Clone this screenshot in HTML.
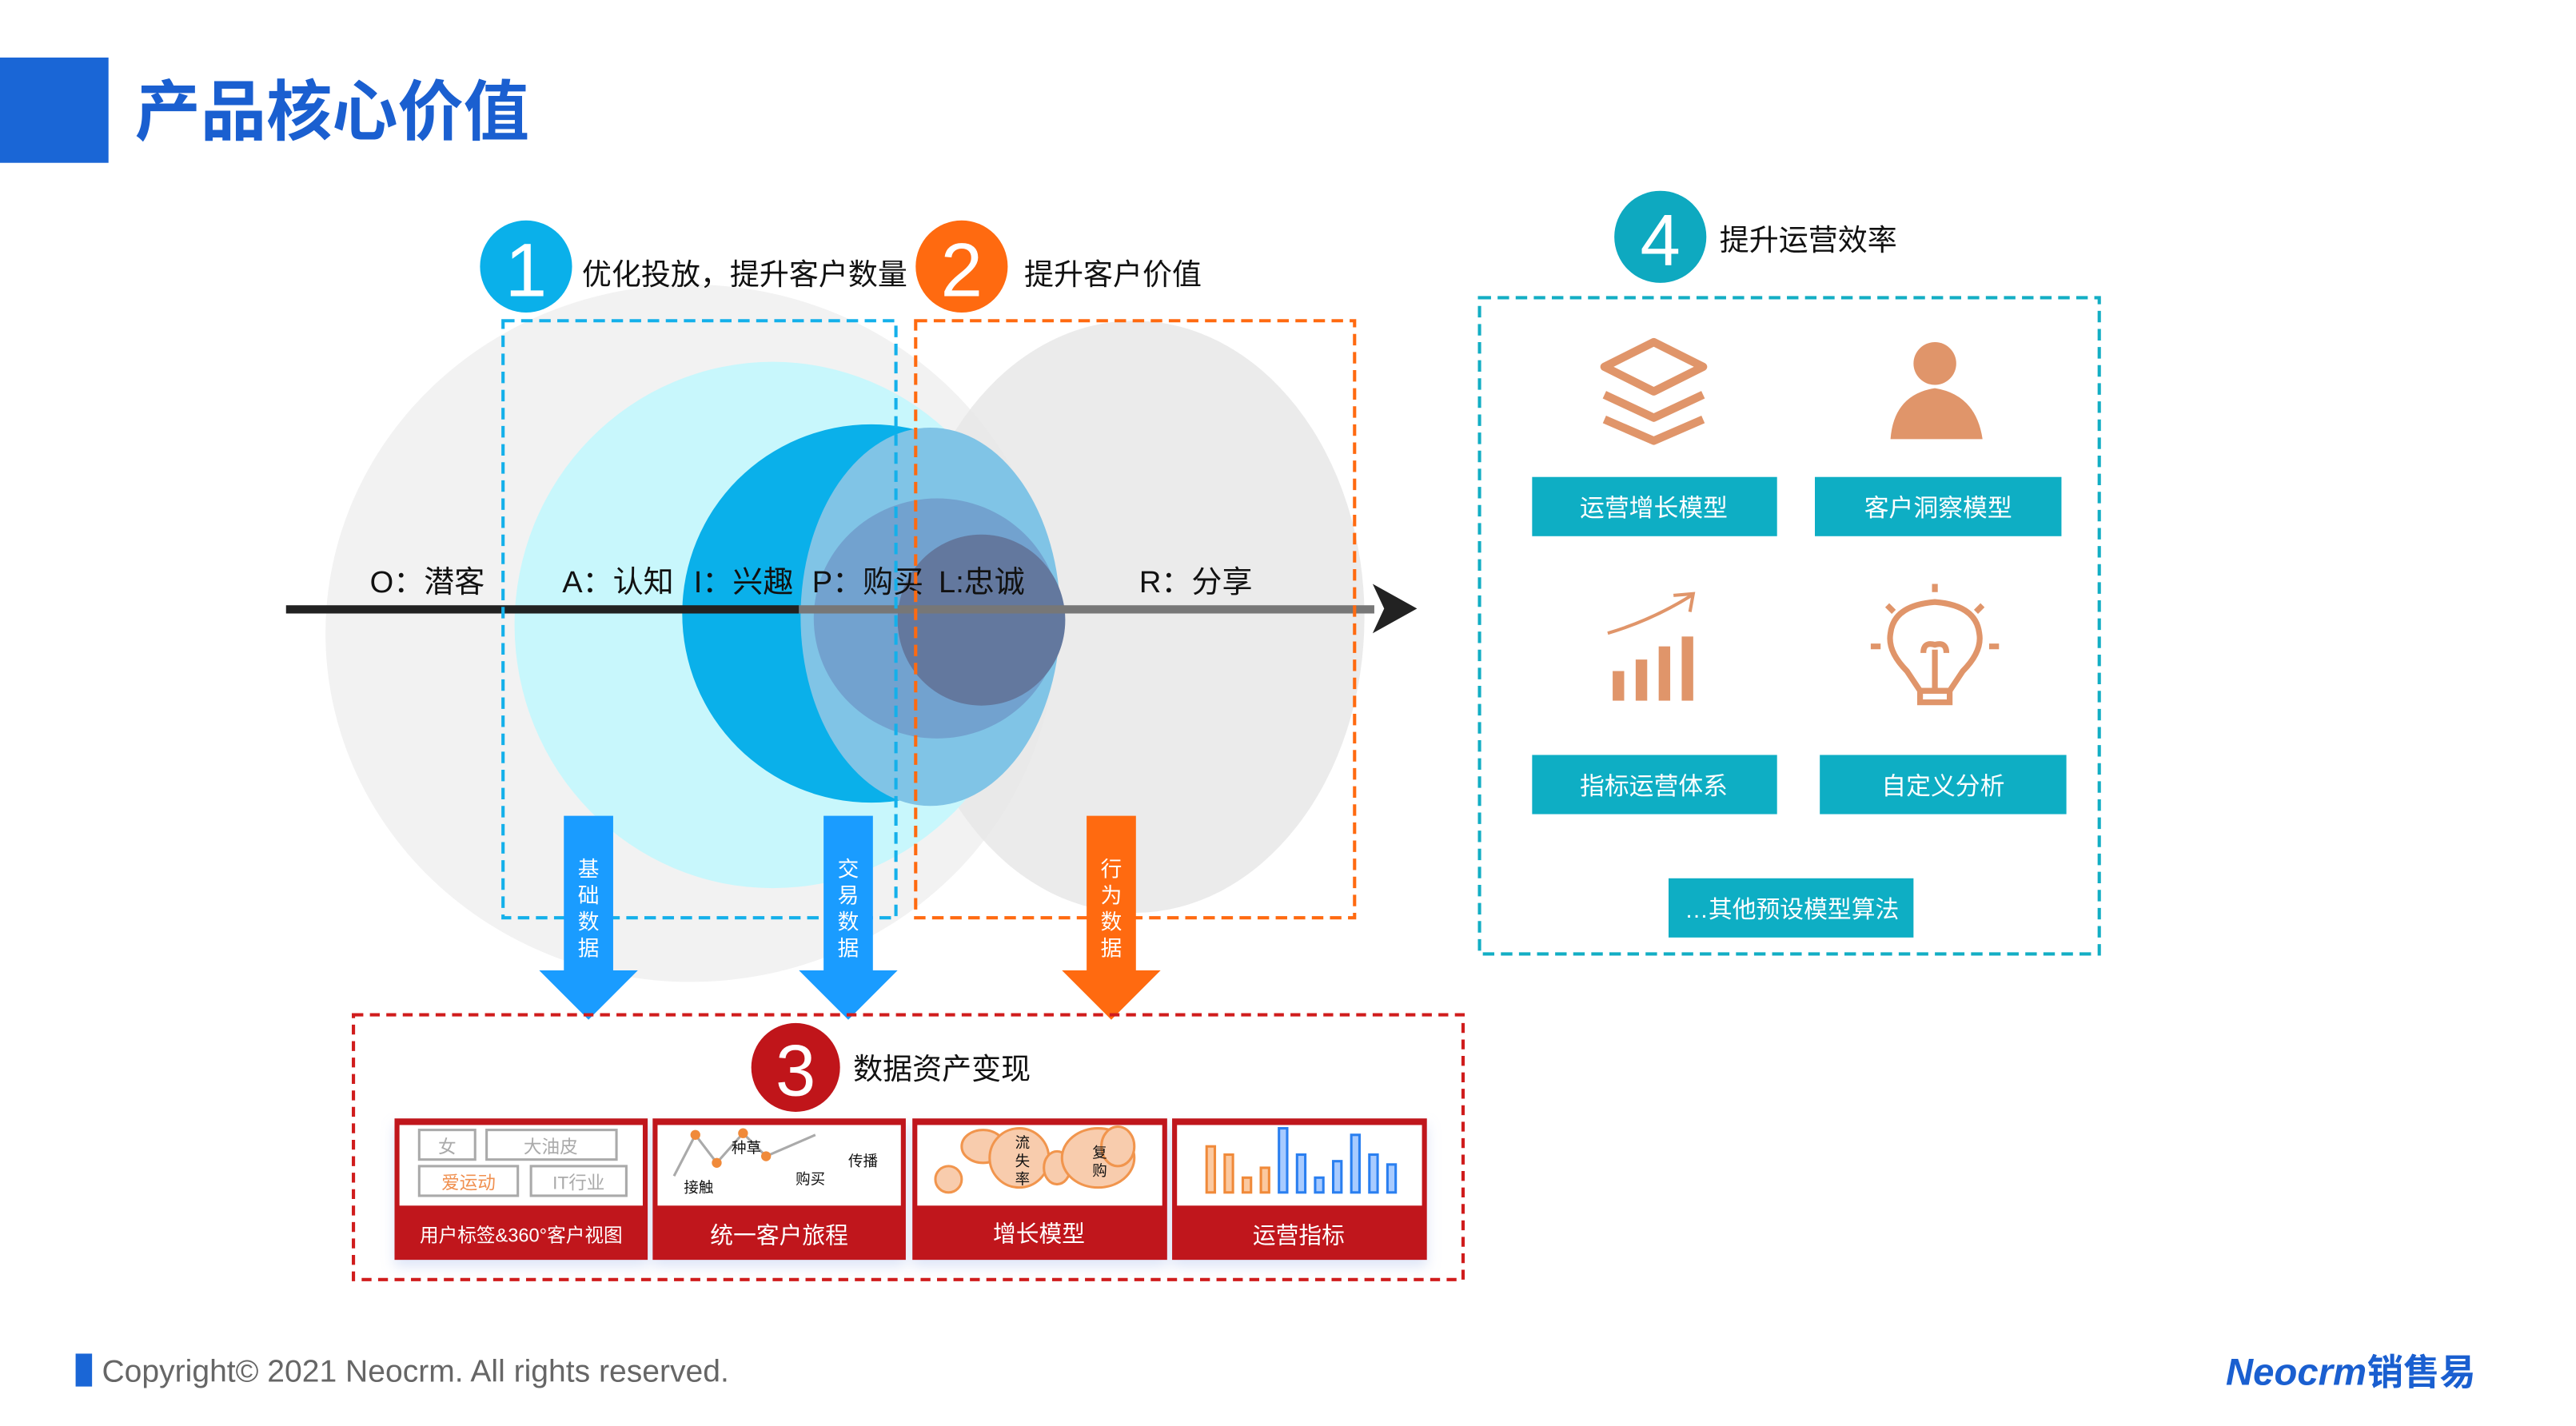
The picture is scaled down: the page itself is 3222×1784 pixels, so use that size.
<!DOCTYPE html>
<html><head><meta charset="utf-8"><style>
html,body{margin:0;padding:0;background:#fff;}
svg{display:block;}
text{font-family:"Liberation Sans","Noto Sans CJK SC",sans-serif;}
</style></head><body>
<svg width="3222" height="1784" viewBox="0 0 1567 867" preserveAspectRatio="none" xmlns="http://www.w3.org/2000/svg">
<defs>
<filter id="sh" x="-10%" y="-10%" width="120%" height="140%"><feDropShadow dx="0" dy="4" stdDeviation="4" flood-color="#9db3e8" flood-opacity="0.35"/></filter>
</defs>
<rect x="0" y="35" width="66" height="64" fill="#1a66d6"/>
<text x="82" y="82" font-size="40" font-weight="bold" fill="#1a5fd0">产品核心价值</text>

<ellipse cx="420" cy="385" rx="222" ry="212" fill="#f2f2f2"/>
<ellipse cx="690" cy="375" rx="140" ry="180" fill="#e6e6e6" opacity="0.8"/>
<ellipse cx="470" cy="380" rx="157" ry="160" fill="#c8f7fc"/>
<ellipse cx="530" cy="373" rx="115" ry="115" fill="#0ab0ea"/>
<ellipse cx="566" cy="375" rx="79" ry="115" fill="#80c4e6"/>
<ellipse cx="570" cy="376" rx="75" ry="73" fill="#72a2cf"/>
<ellipse cx="597" cy="377" rx="51" ry="52" fill="#63789e"/>

<rect x="174" y="368" width="312" height="5" fill="#222"/>
<rect x="486" y="368" width="350" height="5" fill="#777"/>
<polygon points="835,355 862,370 835,385 842,370" fill="#222"/>
<g font-size="18.5" fill="#111" style="font-family:'Liberation Serif','Noto Sans CJK SC',serif">
<text x="225" y="360">O：潜客</text>
<text x="342" y="360">A：认知</text>
<text x="422" y="360">I：兴趣</text>
<text x="494" y="360">P：购买</text>
<text x="571" y="360">L:忠诚</text>
<text x="693" y="360">R：分享</text>
</g>

<rect x="306" y="195" width="239" height="363" fill="none" stroke="#14b0ea" stroke-width="2" stroke-dasharray="7,4"/>
<rect x="557" y="195" width="267" height="363" fill="none" stroke="#ff6a10" stroke-width="2" stroke-dasharray="7,4"/>

<circle cx="320" cy="162" r="28" fill="#0ab0ea"/>
<text x="320" y="180" font-size="46" fill="#fff" text-anchor="middle" font-family="Liberation Serif,serif">1</text>
<text x="354" y="173" font-size="18" fill="#111">优化投放，提升客户数量</text>
<circle cx="585" cy="162" r="28" fill="#ff6a10"/>
<text x="585" y="180" font-size="46" fill="#fff" text-anchor="middle" font-family="Liberation Serif,serif">2</text>
<text x="623" y="173" font-size="18" fill="#111">提升客户价值</text>

<g>
<polygon points="343,496 373,496 373,590 388,590 358,620 328,590 343,590" fill="#1a9cff"/>
<polygon points="501,496 531,496 531,590 546,590 516,620 486,590 501,590" fill="#1a9cff"/>
<polygon points="661,496 691,496 691,590 706,590 676,620 646,590 661,590" fill="#ff6a10"/>
<g font-size="13" fill="#fff" text-anchor="middle">
<text x="358" y="533">基</text><text x="358" y="549">础</text><text x="358" y="565">数</text><text x="358" y="581">据</text>
<text x="516" y="533">交</text><text x="516" y="549">易</text><text x="516" y="565">数</text><text x="516" y="581">据</text>
<text x="676" y="533">行</text><text x="676" y="549">为</text><text x="676" y="565">数</text><text x="676" y="581">据</text>
</g>
</g>

<rect x="215" y="617" width="675" height="161" fill="none" stroke="#d01c1c" stroke-width="2" stroke-dasharray="6,4"/>
<circle cx="484" cy="649" r="27" fill="#c0151a"/>
<text x="484" y="666" font-size="44" fill="#fff" text-anchor="middle" font-family="Liberation Serif,serif">3</text>
<text x="519" y="656" font-size="18" fill="#111">数据资产变现</text>

<g filter="url(#sh)">
<rect x="240" y="680" width="154" height="86" fill="#c0151a"/>
<rect x="397" y="680" width="154" height="86" fill="#c0151a"/>
<rect x="555" y="680" width="155" height="86" fill="#c0151a"/>
<rect x="713" y="680" width="155" height="86" fill="#c0151a"/>
</g>
<rect x="243" y="684" width="148" height="49" fill="#fff"/>
<rect x="400" y="684" width="148" height="49" fill="#fff"/>
<rect x="558" y="684" width="149" height="49" fill="#fff"/>
<rect x="716" y="684" width="149" height="49" fill="#fff"/>
<g font-size="12.5" fill="#fff" text-anchor="middle">
<text x="317" y="755" font-size="11.5">用户标签&amp;360°客户视图</text>
<text x="474" y="756" font-size="14">统一客户旅程</text>
<text x="632" y="755" font-size="14">增长模型</text>
<text x="790" y="756" font-size="14">运营指标</text>
</g>
<g fill="none" stroke="#aaa" stroke-width="1.5">
<rect x="255" y="687" width="34" height="18"/><rect x="296" y="687" width="79" height="18"/>
<rect x="255" y="709" width="60" height="18"/><rect x="323" y="709" width="58" height="18"/>
</g>
<g font-size="11" text-anchor="middle">
<text x="272" y="701" fill="#aaa">女</text><text x="335" y="701" fill="#aaa">大油皮</text>
<text x="285" y="723" fill="#f09050">爱运动</text><text x="352" y="723" fill="#aaa">IT行业</text>
</g>
<polyline points="410,715 423,690 436,707 452,689 466,703 496,690" fill="none" stroke="#aaa" stroke-width="1.5"/>
<g fill="#f08a3a"><circle cx="423" cy="690" r="3"/><circle cx="436" cy="707" r="3"/><circle cx="452" cy="689" r="3"/><circle cx="466" cy="703" r="3"/></g>
<g font-size="9" fill="#111"><text x="445" y="701">种草</text><text x="416" y="725">接触</text><text x="484" y="720">购买</text><text x="516" y="709">传播</text></g>
<g fill="#f8c7a5" stroke="#f08a3a" stroke-width="1.5" opacity="0.9">
<circle cx="577" cy="717" r="8"/><ellipse cx="598" cy="697" rx="13" ry="10"/><ellipse cx="620" cy="704" rx="18" ry="18"/>
<ellipse cx="643" cy="710" rx="8" ry="10"/><ellipse cx="668" cy="704" rx="22" ry="18"/><ellipse cx="680" cy="697" rx="10" ry="12"/>
</g>
<g font-size="9" fill="#111" text-anchor="middle"><text x="622" y="698">流</text><text x="622" y="709">失</text><text x="622" y="720">率</text><text x="669" y="704">复</text><text x="669" y="715">购</text></g>
<g stroke-width="1.5">
<rect x="734" y="697" width="5" height="28" fill="#fbc9a0" stroke="#f08a3a"/>
<rect x="745" y="702" width="5" height="23" fill="#fbc9a0" stroke="#f08a3a"/>
<rect x="756" y="716" width="5" height="9" fill="#fbc9a0" stroke="#f08a3a"/>
<rect x="767" y="710" width="5" height="15" fill="#fbc9a0" stroke="#f08a3a"/>
<rect x="778" y="686" width="5" height="39" fill="#a8cbff" stroke="#2a7ff0"/>
<rect x="789" y="702" width="5" height="23" fill="#a8cbff" stroke="#2a7ff0"/>
<rect x="800" y="716" width="5" height="9" fill="#a8cbff" stroke="#2a7ff0"/>
<rect x="811" y="706" width="5" height="19" fill="#a8cbff" stroke="#2a7ff0"/>
<rect x="822" y="690" width="5" height="35" fill="#a8cbff" stroke="#2a7ff0"/>
<rect x="833" y="702" width="5" height="23" fill="#a8cbff" stroke="#2a7ff0"/>
<rect x="844" y="708" width="5" height="17" fill="#a8cbff" stroke="#2a7ff0"/>
</g>

<circle cx="1010" cy="144" r="28" fill="#0ea9c0"/>
<text x="1010" y="161" font-size="44" fill="#fff" text-anchor="middle">4</text>
<text x="1046" y="152" font-size="18" fill="#111">提升运营效率</text>
<rect x="900" y="181" width="377" height="399" fill="none" stroke="#13aec4" stroke-width="2" stroke-dasharray="7,4"/>
<g fill="#0eaec4">
<rect x="932" y="290" width="149" height="36"/><rect x="1104" y="290" width="150" height="36"/>
<rect x="932" y="459" width="149" height="36"/><rect x="1107" y="459" width="150" height="36"/>
<rect x="1015" y="534" width="149" height="36"/>
</g>
<g font-size="15" fill="#fff" text-anchor="middle">
<text x="1006" y="314">运营增长模型</text><text x="1179" y="314">客户洞察模型</text>
<text x="1006" y="483">指标运营体系</text><text x="1182" y="483">自定义分析</text>
<text x="1090" y="558" font-size="14.5">…其他预设模型算法</text>
</g>
<g fill="none" stroke="#e0956a" stroke-width="5" stroke-linejoin="round">
<polygon points="1006,208 1036,223 1006,238 976,223"/>
<polyline points="976,240 1006,254 1036,240"/>
<polyline points="976,255 1006,268 1036,255"/>
</g>
<g fill="#e0956a">
<circle cx="1177" cy="221" r="13"/>
<path d="M1150,267 Q1152,240 1177,236 Q1202,240 1206,267 Z"/>
<rect x="981" y="408" width="7" height="18"/><rect x="995" y="401" width="7" height="25"/><rect x="1009" y="393" width="7" height="33"/><rect x="1023" y="387" width="7" height="39"/>
</g>
<path d="M978,385 Q1005,377 1029,362" fill="none" stroke="#e0956a" stroke-width="2"/>
<polyline points="1018,362 1030,361 1028,372" fill="none" stroke="#e0956a" stroke-width="2"/>
<g fill="none" stroke="#e0956a" stroke-width="3.5">
<path d="M1168,420 L1160,408 Q1148,396 1150,385 Q1152,368 1177,366 Q1202,368 1204,385 Q1206,396 1194,408 L1186,420 Z"/>
<rect x="1168" y="420" width="18" height="7"/>
<path d="M1177,420 L1177,395 M1170,397 Q1170,390 1177,392 Q1184,390 1184,397"/>
<path d="M1177,355 v5 M1148,368 l4,4 M1206,368 l-4,4 M1138,393 h6 M1210,393 h6"/>
</g>

<rect x="46" y="823" width="10" height="20" fill="#1a66d6"/>
<text x="62" y="840" font-size="19" fill="#666">Copyright© 2021 Neocrm. All rights reserved.</text>
<text x="1354" y="842" font-size="23" font-weight="bold" font-style="italic" fill="#1a5fd0">Neocrm</text>
<text x="1440" y="842" font-size="22" font-weight="bold" fill="#1a5fd0">销售易</text>
</svg>
</body></html>
